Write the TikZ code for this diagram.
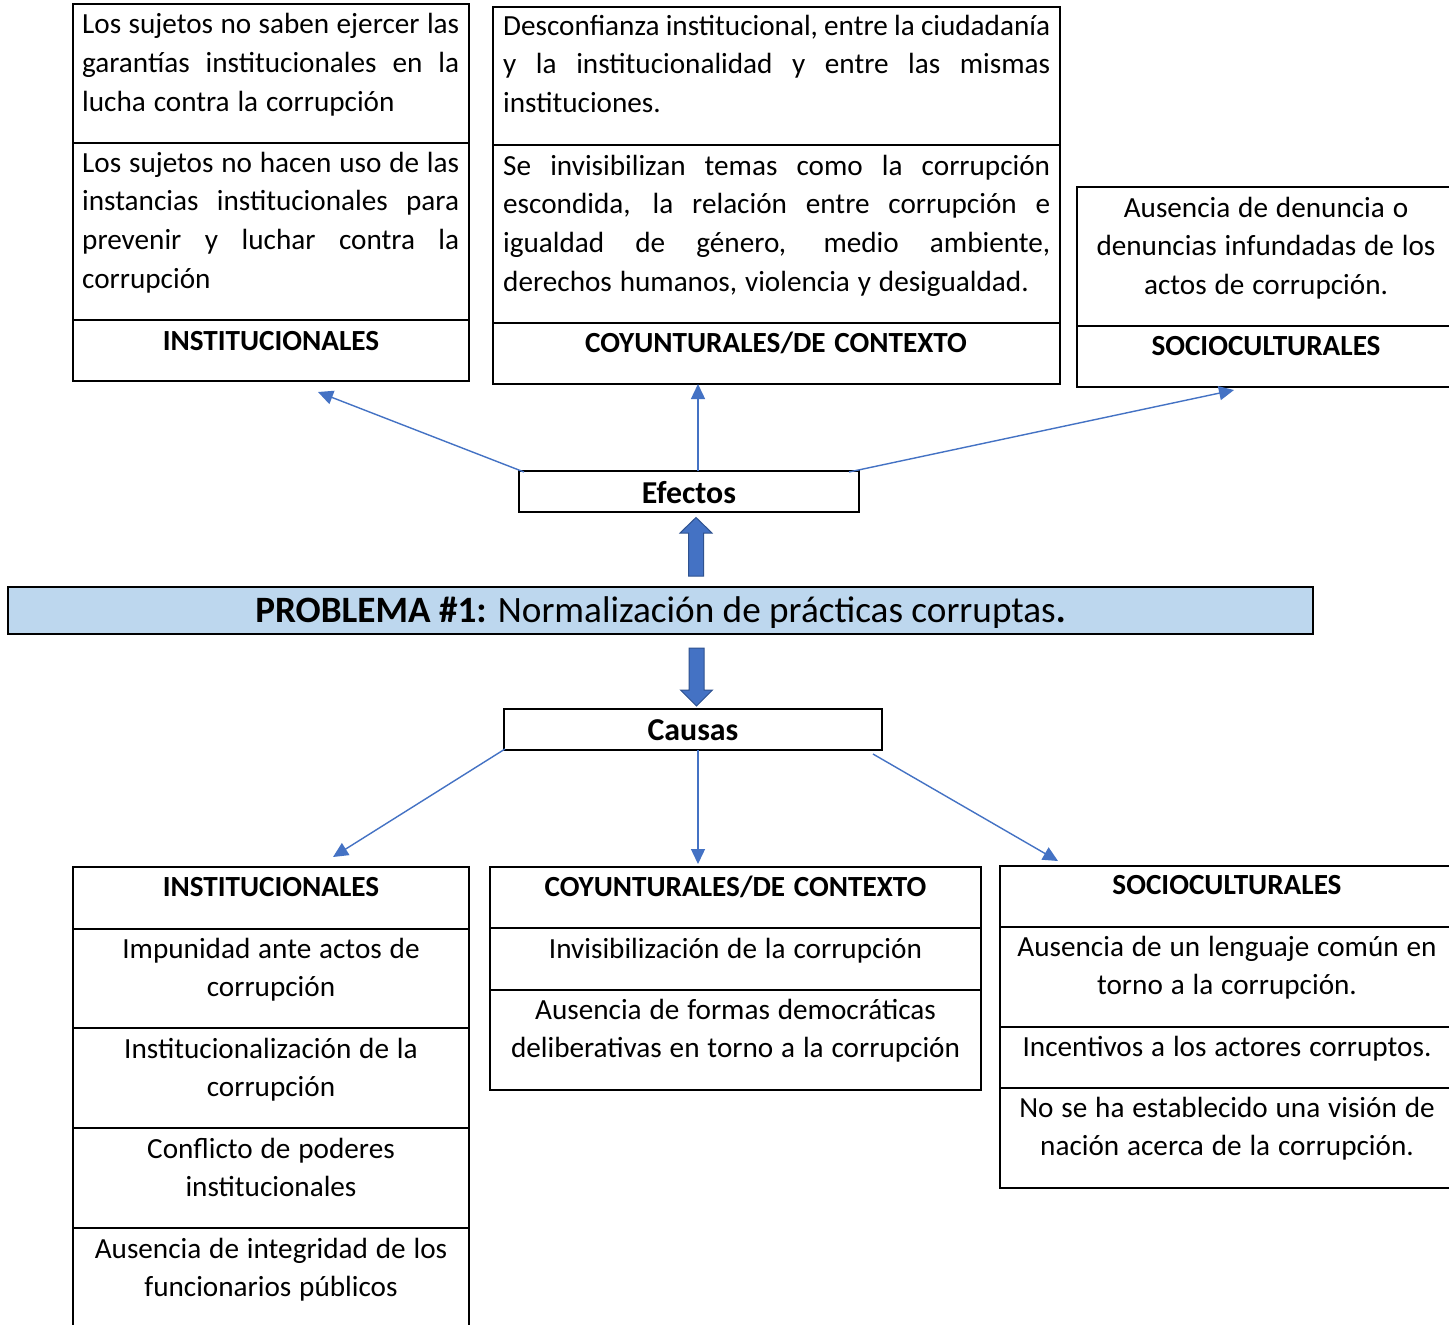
\documentclass[tikz,border=0pt]{standalone}
\usepackage{fontspec}
\setmainfont{Carlito}
\usetikzlibrary{arrows.meta,calc}
\definecolor{linkblue}{HTML}{4472C4}
\definecolor{arrowedge}{HTML}{2F528F}
\definecolor{probfill}{HTML}{BDD7EE}
% word spacing of the body text
\newcommand{\wordspace}{\spaceskip=0.27em plus 0.1em minus 0.04em\relax}
\newcommand{\headspace}{\spaceskip=0.3em plus 0.1em minus 0.04em\relax}
% one justified line of a given width
\newcommand{\jl}[2]{{\spaceskip=0.21em plus 1fil minus 0.08em\relax\makebox[#1][s]{#2}}}

\begin{document}
\begin{tikzpicture}[x=1pt,y=-1pt,
  cell/.style={draw=black, line width=2.3pt, rectangle, inner sep=0pt, outer sep=0pt, anchor=north west},
  body/.style={font=\fontsize{29.2}{38.7}\selectfont, execute at begin node=\wordspace, inner sep=0pt},
  head/.style={font=\fontsize{29.2}{38.7}\selectfont\bfseries, execute at begin node=\headspace, inner sep=0pt, anchor=base},
  label/.style={draw=black, line width=2pt, rectangle, inner sep=0pt, outer sep=0pt,
    font=\fontsize{31.85}{38}\selectfont\bfseries},
  conn/.style={draw=linkblue, line width=1.4pt, -{Triangle[length=15pt,width=14pt]}},
  block/.style={draw=arrowedge, line width=1pt, fill=linkblue}]

\useasboundingbox (0,0) rectangle (1449,1325);
\clip (0,0) rectangle (1449,1325);
\fill[white] (0,0) rectangle (1449,1325);

% ---------- effects: institucionales ----------
\node[cell, minimum width=396, minimum height=139] (tlA) at (73,4) {};
\node[cell, minimum width=396, minimum height=177] (tlB) at (73,143) {};
\node[cell, minimum width=396, minimum height=61] (tlH) at (73,320) {};
\node[body, text width=377pt, align=flush left, anchor=base west] (tlAt) at (82,34)
  {\jl{377pt}{Los sujetos no saben ejercer las}\\
   \jl{377pt}{garantías institucionales en la}\\
   lucha contra la corrupción};
\node[body, text width=377pt, align=flush left, anchor=base west] (tlBt) at (82,172)
  {\jl{377pt}{Los sujetos no hacen uso de las}\\
   \jl{377pt}{instancias institucionales para}\\
   \jl{377pt}{prevenir y luchar contra la}\\
   corrupción};
\node[head] (tlHt) at (271,350) {INSTITUCIONALES};

% ---------- effects: coyunturales ----------
\node[cell, minimum width=567, minimum height=138] (tmA) at (493,7) {};
\node[cell, minimum width=567, minimum height=178] (tmB) at (493,145) {};
\node[cell, minimum width=567, minimum height=61] (tmH) at (493,323) {};
\node[body, text width=547pt, align=flush left, anchor=base west] (tmAt) at (503,35)
  {\jl{547pt}{Desconfianza institucional, entre la ciudadanía}\\
   \jl{547pt}{y la institucionalidad y entre las mismas}\\
   instituciones.};
\node[body, text width=547pt, align=flush left, anchor=base west] (tmBt) at (503,175)
  {\jl{547pt}{Se invisibilizan temas como la corrupción}\\
   \jl{547pt}{escondida, la relación entre corrupción e}\\
   \jl{547pt}{igualdad de género, medio ambiente,}\\
   derechos humanos, violencia y desigualdad.};
\node[head] (tmHt) at (776,352) {COYUNTURALES/DE CONTEXTO};

% ---------- effects: socioculturales ----------
\node[cell, minimum width=380, minimum height=139] (trA) at (1077,187) {};
\node[cell, minimum width=380, minimum height=61] (trH) at (1077,326) {};
\node[body, text width=370pt, align=flush center, anchor=base] (trAt) at (1266,217)
  {Ausencia de denuncia o\\ denuncias infundadas de los\\ actos de corrupción.};
\node[head] (trHt) at (1266,355) {SOCIOCULTURALES};

% ---------- central chain ----------
\node[label, minimum width=340, minimum height=41, text height=32pt, text depth=9pt] (efectos) at (689,491.5) {Efectos};
\node[draw=black, line width=2.3pt, fill=probfill, rectangle, inner sep=0pt,
  minimum width=1305, minimum height=47, text height=35pt, text depth=12pt,
  font=\fontsize{37.2}{44}\selectfont] (problema) at (660.5,610.5)
  {\textbf{PROBLEMA \#1:} Normalización de prácticas corruptas\textbf{.}};
\node[label, minimum width=378, minimum height=41, text height=31pt, text depth=10pt] (causas) at (693,729.5) {Causas};

\draw[block] (688.5,576) -- (688.5,533) -- (680,533) -- (696,517.5) -- (712,533) -- (703.5,533) -- (703.5,576) -- cycle;
\draw[block] (689,648) -- (689,690) -- (680.5,690) -- (696.5,706) -- (712.5,690) -- (704,690) -- (704,648) -- cycle;

% ---------- arrows to the effects ----------
\coordinate (eL) at (318,392);
\coordinate (eM) at (698,384);
\coordinate (eR) at (1234,390);
\draw[conn] ($(efectos.north west)+(5,1)$) -- (eL);
\draw[conn] ($(efectos.north)+(9,0)$) -- (eM);
\draw[conn] ($(efectos.north east)+(-10,1)$) -- (eR);

% ---------- arrows to the causes ----------
\coordinate (cL) at (333,857);
\coordinate (cM) at (698,864);
\coordinate (cR) at (1058,861);
\draw[conn] ($(causas.south west)+(1,-1)$) -- (cL);
\draw[conn] ($(causas.south)+(5,0)$) -- (cM);
\draw[conn] ($(causas.south east)+(-9,4)$) -- (cR);

% ---------- causes: institucionales ----------
\node[cell, minimum width=396, minimum height=62] (blH) at (73,867) {};
\node[cell, minimum width=396, minimum height=99] (blA) at (73,929) {};
\node[cell, minimum width=396, minimum height=100] (blB) at (73,1028) {};
\node[cell, minimum width=396, minimum height=100] (blC) at (73,1128) {};
\node[cell, minimum width=396, minimum height=110] (blD) at (73,1228) {};
\node[head] (blHt) at (271,896) {INSTITUCIONALES};
\node[body, text width=390pt, align=flush center, anchor=base] (blAt) at (271,958)
  {Impunidad ante actos de\\ corrupción};
\node[body, text width=390pt, align=flush center, anchor=base] (blBt) at (271,1058)
  {Institucionalización de la\\ corrupción};
\node[body, text width=390pt, align=flush center, anchor=base] (blCt) at (271,1158)
  {Conflicto de poderes\\ institucionales};
\node[body, text width=390pt, align=flush center, anchor=base] (blDt) at (271,1258)
  {Ausencia de integridad de los\\ funcionarios públicos};

% ---------- causes: coyunturales ----------
\node[cell, minimum width=491, minimum height=61] (bmH) at (490,867) {};
\node[cell, minimum width=491, minimum height=62] (bmA) at (490,928) {};
\node[cell, minimum width=491, minimum height=100] (bmB) at (490,990) {};
\node[head] (bmHt) at (735.5,896) {COYUNTURALES/DE CONTEXTO};
\node[body, text width=485pt, align=flush center, anchor=base] (bmAt) at (735.5,958)
  {Invisibilización de la corrupción};
\node[body, text width=485pt, align=flush center, anchor=base] (bmBt) at (735.5,1019)
  {Ausencia de formas democráticas\\ deliberativas en torno a la corrupción};

% ---------- causes: socioculturales ----------
\node[cell, minimum width=457, minimum height=61] (brH) at (1000,866) {};
\node[cell, minimum width=457, minimum height=100] (brA) at (1000,927) {};
\node[cell, minimum width=457, minimum height=61] (brB) at (1000,1027) {};
\node[cell, minimum width=457, minimum height=100] (brC) at (1000,1088) {};
\node[head] (brHt) at (1227,894) {SOCIOCULTURALES};
\node[body, text width=450pt, align=flush center, anchor=base] (brAt) at (1227,956)
  {Ausencia de un lenguaje común en\\ torno a la corrupción.};
\node[body, text width=450pt, align=flush center, anchor=base] (brBt) at (1227,1056)
  {Incentivos a los actores corruptos.};
\node[body, text width=450pt, align=flush center, anchor=base] (brCt) at (1227,1117)
  {No se ha establecido una visión de\\ nación acerca de la corrupción.};
\end{tikzpicture}
\end{document}
